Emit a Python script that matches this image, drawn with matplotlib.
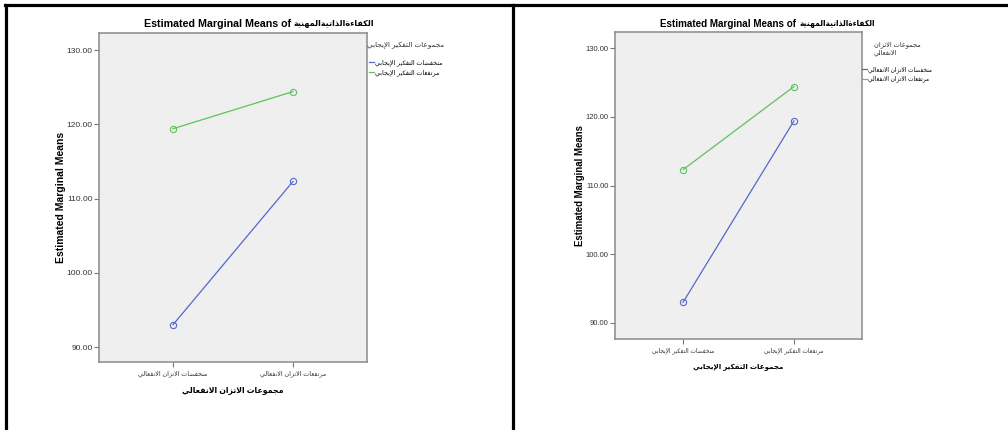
import matplotlib
matplotlib.use("Agg")
import matplotlib.pyplot as plt
from matplotlib.lines import Line2D
from matplotlib.ticker import FormatStrFormatter

plt.rcParams['font.family'] = ['Liberation Sans', 'DejaVu Sans']

# ---- text and values
y_label = "Estimated Marginal Means"
title_en = "Estimated Marginal Means of "
title_ar = "الكفاءةالذاتيةالمهنية"

eb_name = "مجموعات الاتزان الانفعالي"        # emotional balance groups
pt_name = "مجموعات التفكير الإيجابي"         # positive thinking groups
eb_groups = ["منخفضات الاتزان الانفعالي", "مرتفعات الاتزان الانفعالي"]
pt_groups = ["منخفضات التفكير الإيجابي", "مرتفعات التفكير الإيجابي"]

# means by positive thinking group, at low / high emotional balance
low_pt = [93.0, 112.3]
high_pt = [119.4, 124.4]
# same cells seen by emotional balance group, at low / high positive thinking
low_eb = [low_pt[0], high_pt[0]]
high_eb = [low_pt[1], high_pt[1]]

yticks = [90, 100, 110, 120, 130]

blue = "#5468cc"
green = "#5cc35a"

# ---- minimal arabic shaping (matplotlib has no text shaping / bidi)
_letters = "ءآأؤإئابةتثجحخدذرزسشصضطظعغفقكلمنهوىي"
_nforms = [1, 2, 2, 2, 2, 4, 2, 4, 2, 4, 4, 4, 4, 4, 2, 2, 2, 2, 4, 4,
           4, 4, 4, 4, 4, 4, 4, 4, 4, 4, 4, 4, 4, 2, 2, 4]
FORMS = {}
code = 0xFE80
for ch, n in zip(_letters, _nforms):
    FORMS[ch] = [chr(code + i) for i in range(n)]
    code += n
LAM_ALEF = {"آ": 0xFEF5, "أ": 0xFEF7, "إ": 0xFEF9, "ا": 0xFEFB}


def shape_line(text):
    toks = []
    i = 0
    while i < len(text):
        c = text[i]
        if c == "ل" and i + 1 < len(text) and text[i + 1] in LAM_ALEF:
            b = LAM_ALEF[text[i + 1]]
            toks.append([chr(b), chr(b + 1)])
            i += 2
        elif c in FORMS:
            toks.append(FORMS[c])
            i += 1
        else:
            toks.append(c)
            i += 1
    out = []
    for k, t in enumerate(toks):
        if isinstance(t, str):
            out.append(t)
            continue
        prev = toks[k - 1] if k > 0 else None
        nxt = toks[k + 1] if k + 1 < len(toks) else None
        j_prev = isinstance(prev, list) and len(prev) == 4 and len(t) > 1
        j_next = len(t) == 4 and isinstance(nxt, list) and len(nxt) > 1
        if j_prev and j_next:
            out.append(t[3])
        elif j_prev:
            out.append(t[1])
        elif j_next:
            out.append(t[2])
        else:
            out.append(t[0])
    return "".join(reversed(out))


def ar(text):
    return "\n".join(shape_line(s) for s in text.split("\n"))


W, H = 1008, 430
fig = plt.figure(figsize=(W / 100, H / 100), dpi=100)


def px_axes(x0, y0, x1, y1):
    return fig.add_axes([x0 / W, 1 - y1 / H, (x1 - x0) / W, (y1 - y0) / H])


def panel(ax, xcats, s1, s2, xname, legname, leglabels, ylim, xlim, k, leg_y):
    ax.set_facecolor("#efefef")
    x = [0, 1]
    ax.plot(x, s1, color=blue, lw=0.9, marker="o", ms=4.5, mfc="none", mew=0.8)
    ax.plot(x, s2, color=green, lw=0.9, marker="o", ms=4.5, mfc="none", mew=0.8)
    ax.set_xlim(xlim)
    ax.set_ylim(ylim)
    ax.set_yticks(yticks)
    ax.yaxis.set_major_formatter(FormatStrFormatter("%.2f"))
    ax.set_xticks(x)
    ax.set_xticklabels([ar(c) for c in xcats], fontsize=4.6 * k)
    ax.tick_params(axis="y", labelsize=6 * k, length=3.5, width=0.8, pad=1,
                   colors="#777777", labelcolor="#333333")
    ax.tick_params(axis="x", length=3.5, width=0.8, pad=2.5,
                   colors="#777777", labelcolor="#333333")
    for s in ax.spines.values():
        s.set_color("#8a8a8a")
        s.set_linewidth(1.1)
    ax.set_xlabel(ar(xname), fontsize=5.6 * k, fontweight="bold", labelpad=7)
    ax.set_ylabel(y_label, fontsize=7.5 * k, fontweight="bold", labelpad=0.5)
    handles = [Line2D([], [], color=blue, lw=0.9), Line2D([], [], color=green, lw=0.9)]
    leg = ax.legend(handles, [ar(t) for t in leglabels], title=ar(legname),
                    loc="upper left", bbox_to_anchor=(1.0, leg_y), frameon=False,
                    fontsize=4.6 * k, title_fontsize=5.2 * k, handlelength=0.9,
                    handletextpad=0.15, borderaxespad=0.0, borderpad=0.0,
                    labelspacing=0.5)
    leg.get_title().set_color("#333333")
    leg._legend_box.sep = 7


def title(xc, k):
    # english part to the left, arabic part to the right of the split point
    fig.text(xc / W, 1 - 24 / H, title_en, ha="right", va="center",
             fontsize=7.7 * k, fontweight="bold")
    fig.text(xc / W, 1 - 24 / H, ar(title_ar), ha="left", va="center",
             fontsize=5.9 * k, fontweight="bold")


# left plot: x = emotional balance, lines = positive thinking
axL = px_axes(99, 33, 367, 362)
panel(axL, eb_groups, low_pt, high_pt, eb_name, pt_name, pt_groups,
      (87.98, 132.29), (-0.617, 1.617), 1.0, 0.972)
title(294, 1.0)

# right plot: x = positive thinking, lines = emotional balance
axR = px_axes(615, 32, 862, 339)
panel(axR, pt_groups, low_eb, high_eb, pt_name, "مجموعات الاتزان\nالانفعالي", eb_groups,
      (87.67, 132.33), (-0.613, 1.613), 0.92, 0.97)
title(799, 0.92)

# table borders around the two cells
for xs, ys in [((5, W), (5, 5)), ((6, 6), (5, H)), ((513, 513), (5, H))]:
    fig.add_artist(Line2D([x / W for x in xs], [1 - y / H for y in ys],
                          color="black", lw=2.3, transform=fig.transFigure))

fig.savefig("out.png", dpi=100)
